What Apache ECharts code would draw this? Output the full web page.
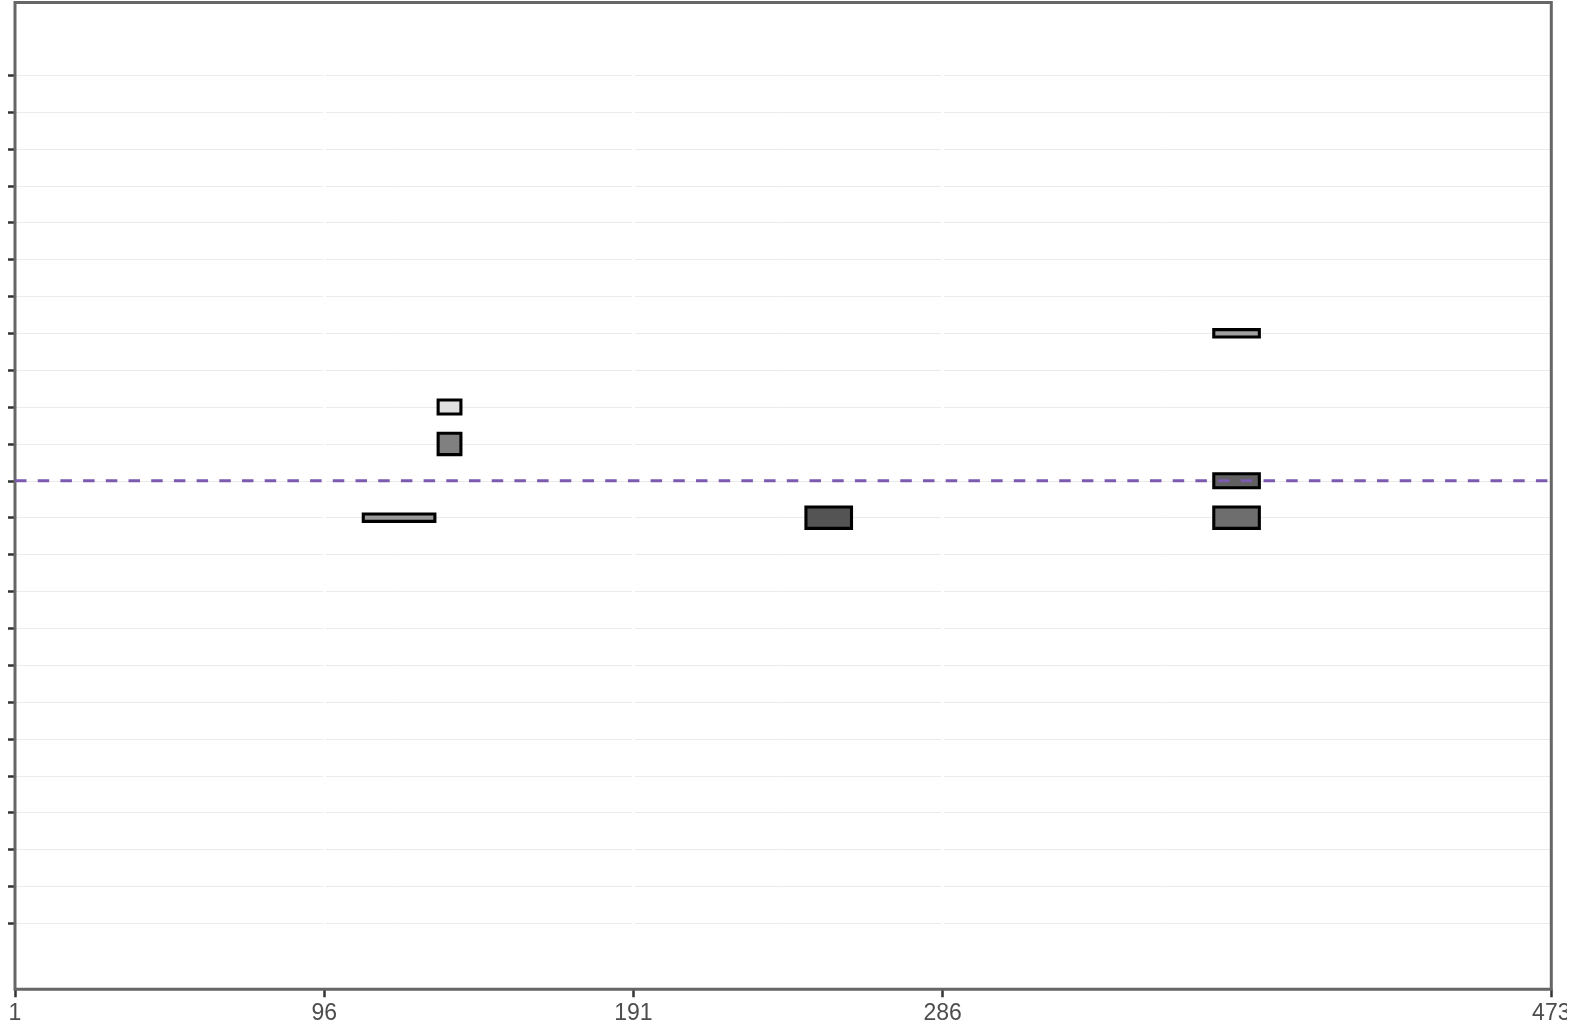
<!DOCTYPE html>
<html>
<head>
<meta charset="utf-8">
<script src="https://cdn.jsdelivr.net/npm/echarts@6/dist/echarts.min.js"></script>
<style>
html,body{margin:0;padding:0;background:#fff;overflow:hidden;}
#chart{width:1567px;height:1029px;}
</style>
</head>
<body>
<div id="chart"></div>
<script>
// ---- data ----
const xTickValues = [1, 96, 191, 286, 473];
const xGuideValues = [96, 191, 286];
const yTickValues = [1,2,3,4,5,6,7,8,9,10,11,12,13,14,15,16,17,18,19,20,21,22,23,24];
const segStart = [108, 131, 131, 244, 369.3, 369.3, 369.3];
const segEnd   = [130, 138, 138, 258, 383.3, 383.3, 383.3];
const segRow   = [12, 15, 14, 12, 17, 13, 12];
const segThick = [0.2, 0.38, 0.58, 0.58, 0.2, 0.38, 0.58];
const segLevel = [0.40, 0.12, 0.50, 0.67, 0.37, 0.62, 0.57];
const refValue = 13;
const xRange = [1, 473];

function shade(level) {
  const v = Math.round(255 * (1 - level));
  return 'rgb(' + v + ',' + v + ',' + v + ')';
}

const segData = segStart.map((s, i) => [s, segEnd[i], segRow[i], segThick[i], segLevel[i]]);

const chart = echarts.init(document.getElementById('chart'), null, {renderer: 'canvas'});
const font = "'Liberation Sans', Arial, sans-serif";

chart.setOption({
  animation: false,
  backgroundColor: '#fff',
  grid: {
    left: 15, right: 15.7, top: 2.5, bottom: 39.7,
    containLabel: false, outerBoundsMode: 'none',
    show: true, borderColor: '#666', borderWidth: 3, backgroundColor: 'transparent', z: 3
  },
  xAxis: [{
    type: 'value', min: xRange[0], max: xRange[1], z: 2, position: 'bottom',
    axisLine: {show: false, onZero: false},
    axisTick: {show: true, length: 8, customValues: xTickValues, lineStyle: {color: '#333', width: 2.5}},
    axisLabel: {show: true, customValues: xTickValues, margin: 13, color: '#4d4d4d', fontSize: 23, fontFamily: font},
    splitLine: {show: false}
  }, {
    type: 'value', min: xRange[0], max: xRange[1], z: 1, position: 'top',
    axisLine: {show: false, onZero: false},
    axisTick: {show: false, customValues: xGuideValues},
    axisLabel: {show: false, customValues: xGuideValues},
    splitLine: {show: true, lineStyle: {color: '#ffffff', width: 3}}
  }],
  yAxis: {
    type: 'value', min: -0.79, max: 25.97, z: 0,
    axisLine: {show: false, onZero: false},
    axisTick: {show: true, length: 7, customValues: yTickValues, lineStyle: {color: '#333', width: 2.5}},
    axisLabel: {show: false, customValues: yTickValues},
    splitLine: {show: true, lineStyle: {color: '#ebebeb', width: 1}}
  },
  series: [{
    type: 'custom',
    xAxisIndex: 0,
    z: 2,
    clip: true,
    data: segData,
    renderItem: function (params, api) {
      const x0 = api.value(0), x1 = api.value(1), y = api.value(2), h = api.value(3), lvl = api.value(4);
      const p0 = api.coord([x0, y + h / 2]);
      const p1 = api.coord([x1, y - h / 2]);
      return {
        type: 'rect',
        shape: {x: p0[0], y: p0[1], width: p1[0] - p0[0], height: p1[1] - p0[1]},
        style: {fill: shade(lvl), stroke: '#000', lineWidth: 3.1}
      };
    }
  }, {
    type: 'line',
    xAxisIndex: 0,
    z: 4,
    symbol: 'none',
    silent: true,
    data: [[xRange[0], refValue], [xRange[1], refValue]],
    lineStyle: {color: '#7b5ab0', width: 3, type: [11.5, 11.2]}
  }]
});
</script>
</body>
</html>
